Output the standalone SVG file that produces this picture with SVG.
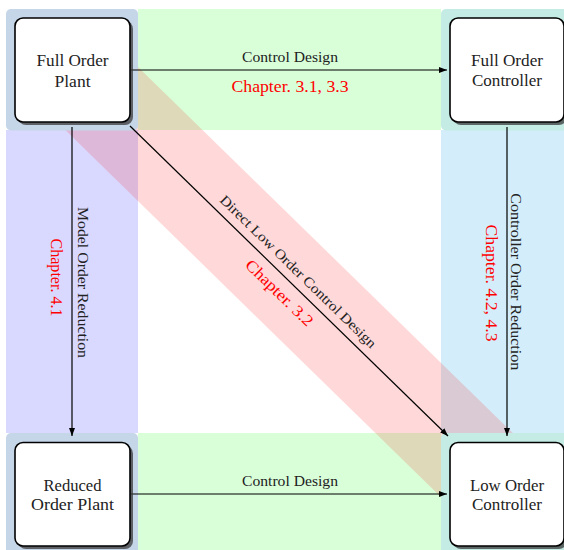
<svg xmlns="http://www.w3.org/2000/svg" width="564" height="550" viewBox="0 0 564 550">
<style>
.box{fill:#fff;stroke:#000;stroke-width:1.6}
.shadow{fill:#3a3a3a;opacity:0.75}
.nt{font-family:"Liberation Serif","DejaVu Serif",serif;font-size:16px;fill:#222;text-anchor:middle}
.el{font-family:"Liberation Serif","DejaVu Serif",serif;font-size:14px;fill:#222;text-anchor:middle}
.rl{font-family:"Liberation Serif","DejaVu Serif",serif;font-size:16px;fill:#ff0000;text-anchor:middle}
.arr{fill:none;stroke:#000;stroke-width:1.2;marker-end:url(#ah)}
</style>
<defs>
<marker id="ah" markerUnits="userSpaceOnUse" markerWidth="9" markerHeight="7" refX="8" refY="3" orient="auto">
<path d="M0,0 L8,3 L0,6 Z" fill="#000"/>
</marker>
</defs>
<g id="backgrounds">
<rect x="138" y="9" width="303" height="121" fill="#d9ffd9"/>
<rect x="138" y="433" width="303" height="117" fill="#d9ffd9"/>
<rect x="6" y="130" width="132" height="303" fill="#d9d9ff"/>
<rect x="441" y="130" width="123" height="303" fill="#d3eefa"/>
<line x1="72.5" y1="70" x2="506.5" y2="494" stroke="#ff0000" stroke-opacity="0.15" stroke-width="96"/>
<rect x="6" y="9" width="132" height="121.5" rx="5" fill="#c5d6e8"/>
<rect x="441" y="9" width="130" height="121.5" rx="5" fill="#c4ece4"/>
<rect x="6" y="433" width="132" height="125" rx="5" fill="#c5d6e8"/>
<rect x="441" y="433" width="130" height="125" rx="5" fill="#c4ece4"/>
</g>
<g id="connectors">
<path class="arr" d="M131,70 H447"/>
<path class="arr" d="M131,494 H447"/>
<path class="arr" d="M72,127 V436"/>
<path class="arr" d="M507,127 V436"/>
<path class="arr" d="M130,126 L448,436"/>
<text class="el" x="290" y="62" textLength="96" lengthAdjust="spacingAndGlyphs">Control Design</text>
<text class="rl" x="290" y="91.5" textLength="117" lengthAdjust="spacingAndGlyphs">Chapter. 3.1, 3.3</text>
<text class="el" x="290" y="486" textLength="96" lengthAdjust="spacingAndGlyphs">Control Design</text>
<text class="el" transform="translate(77.5,282.5) rotate(90)" textLength="151" lengthAdjust="spacingAndGlyphs">Model Order Reduction</text>
<text class="rl" transform="translate(51,277.5) rotate(90)" textLength="78" lengthAdjust="spacingAndGlyphs">Chapter. 4.1</text>
<text class="el" transform="translate(511,281.7) rotate(90)" textLength="177" lengthAdjust="spacingAndGlyphs">Controller Order Reduction</text>
<text class="rl" transform="translate(485.5,283) rotate(90)" textLength="117" lengthAdjust="spacingAndGlyphs">Chapter. 4.2, 4.3</text>
<g transform="translate(289,281) rotate(44.27)">
<text class="el" x="0" y="-8.5" textLength="212" lengthAdjust="spacingAndGlyphs">Direct Low Order Control Design</text>
<text class="rl" x="1.5" y="20.5" textLength="88" lengthAdjust="spacingAndGlyphs">Chapter. 3.2</text>
</g>
</g>
<g id="full-order-plant">
<rect class="shadow" x="18" y="21" width="115" height="104" rx="8"/>
<rect class="box" x="15" y="18" width="115" height="104" rx="8"/>
<text class="nt" x="72.5" y="66" textLength="72" lengthAdjust="spacingAndGlyphs">Full Order</text>
<text class="nt" x="72.5" y="86.5" textLength="36" lengthAdjust="spacingAndGlyphs">Plant</text>
</g>
<g id="full-order-controller">
<rect class="shadow" x="453" y="21" width="114" height="104" rx="8"/>
<rect class="box" x="450" y="18" width="114" height="104" rx="8"/>
<text class="nt" x="507" y="66" textLength="72" lengthAdjust="spacingAndGlyphs">Full Order</text>
<text class="nt" x="507" y="86" textLength="70" lengthAdjust="spacingAndGlyphs">Controller</text>
</g>
<g id="reduced-order-plant">
<rect class="shadow" x="18" y="445.5" width="115" height="103.5" rx="8"/>
<rect class="box" x="15" y="442.5" width="115" height="103.5" rx="8"/>
<text class="nt" x="72.5" y="490.5" textLength="58" lengthAdjust="spacingAndGlyphs">Reduced</text>
<text class="nt" x="72.5" y="510" textLength="83" lengthAdjust="spacingAndGlyphs">Order Plant</text>
</g>
<g id="low-order-controller">
<rect class="shadow" x="453" y="445.5" width="114" height="103.5" rx="8"/>
<rect class="box" x="450" y="442.5" width="114" height="103.5" rx="8"/>
<text class="nt" x="507" y="490.5" textLength="74" lengthAdjust="spacingAndGlyphs">Low Order</text>
<text class="nt" x="507" y="510" textLength="70" lengthAdjust="spacingAndGlyphs">Controller</text>
</g>
</svg>
